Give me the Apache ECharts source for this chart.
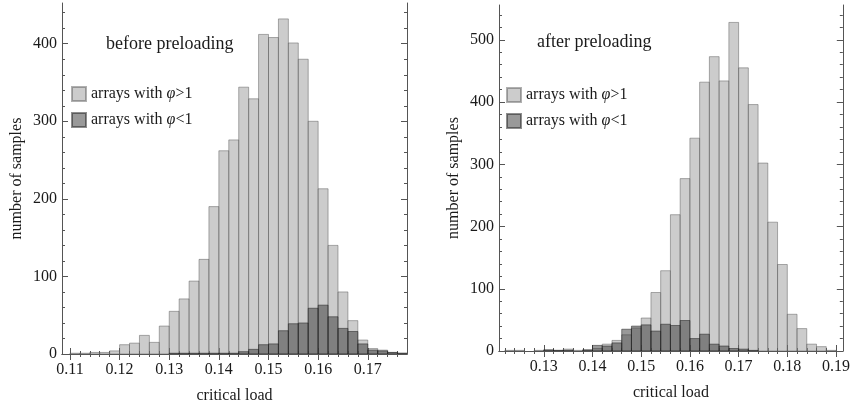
<!DOCTYPE html>
<html><head><meta charset="utf-8">
<script src="https://cdn.jsdelivr.net/npm/echarts@6/dist/echarts.min.js"></script>
<style>html,body{margin:0;padding:0;background:#fff}#c{width:853px;height:410px}</style>
</head><body><div id="c"></div>
<script>
// ---------- data ----------
const binWidth = 0.002;
const seriesNames = ['arrays with φ>1', 'arrays with φ<1'];
const panelTitles = ['before preloading', 'after preloading'];
const xAxisName = 'critical load';
const yAxisName = 'number of samples';

// before preloading
const leftBinStarts = [0.110,0.112,0.114,0.116,0.118,0.120,0.122,0.124,0.126,0.128,
  0.130,0.132,0.134,0.136,0.138,0.140,0.142,0.144,0.146,0.148,
  0.150,0.152,0.154,0.156,0.158,0.160,0.162,0.164,0.166,0.168,
  0.170,0.172,0.174,0.176];
const leftAbove = [1,1,2,2,4,12,14,24,15,36,
  55,71,94,122,190,262,276,344,329,412,
  408,432,401,380,300,213,140,80,43,18,
  7,5,2,1];
const leftBelow = [0,0,0,0,0,0,0,0,0,0,
  1,1,1,1,1,1,1,3,6,12,
  13,30,39,40,59,63,48,33,29,13,
  5,4,2,1];
const leftXTicks = [0.11,0.12,0.13,0.14,0.15,0.16,0.17];
const leftYTicks = [0,100,200,300,400];

// after preloading
const rightBinStarts = [0.122,0.124,0.126,0.128,0.130,0.132,0.134,0.136,0.138,0.140,
  0.142,0.144,0.146,0.148,0.150,0.152,0.154,0.156,0.158,0.160,
  0.162,0.164,0.166,0.168,0.170,0.172,0.174,0.176,0.178,0.180,
  0.182,0.184,0.186,0.188];
const rightAbove = [1,1,0,1,1,1,3,1,1,4,
  11,17,26,37,53,94,129,219,277,342,
  432,473,434,528,455,396,302,207,139,59,
  36,11,7,1];
const rightBelow = [0,0,0,0,2,1,1,0,2,9,
  8,13,35,40,42,32,43,41,49,20,
  27,11,8,4,3,1,0,0,0,0,
  0,0,0,0];
const rightXTicks = [0.13,0.14,0.15,0.16,0.17,0.18,0.19];
const rightYTicks = [0,100,200,300,400,500];

// ---------- styling / layout ----------
const FONT = '"Liberation Serif", "DejaVu Serif", serif';
const TXT = '#1a1a1a';
const FRAME = '#555';
const panels = [
  {grid:{left:62, top:3, width:345, height:351}, xmin:0.1084, xmax:0.1779, ymax:452.5,
   starts:leftBinStarts, above:leftAbove, below:leftBelow, xt:leftXTicks, yt:leftYTicks,
   title:{left:106, top:35}, legend:{left:71, top:86}},
  {grid:{left:499, top:5, width:345, height:346}, xmin:0.1208, xmax:0.1914, ymax:556,
   starts:rightBinStarts, above:rightAbove, below:rightBelow, xt:rightXTicks, yt:rightYTicks,
   title:{left:537, top:33}, legend:{left:506, top:87}}
];

function minorList(lo, hi, step) {
  const out = [];
  const k0 = Math.ceil(lo / step - 1e-9), k1 = Math.floor(hi / step + 1e-9);
  for (let k = k0; k <= k1; k++) out.push(+(k * step).toFixed(6));
  return out;
}

const grids = [], xAxes = [], yAxes = [], series = [], titles = [], legends = [];
const seriesStyles = [
  {color:'rgba(153,153,153,0.5)', borderColor:'rgba(80,80,80,0.45)', borderWidth:1},
  {color:'rgba(51,51,51,0.5)', borderColor:'rgba(30,30,30,0.5)', borderWidth:1}
];

function renderBar(params, api) {
  const y = api.value(2);
  if (!(y > 0)) return null;
  const p0 = api.coord([api.value(0), y]);
  const p1 = api.coord([api.value(1), 0]);
  return {type:'rect', shape:{x:p0[0], y:p0[1], width:p1[0]-p0[0], height:p1[1]-p0[1]},
          style: api.style()};
}

panels.forEach((p, g) => {
  grids.push(Object.assign({containLabel:false}, p.grid));
  const xMinor = minorList(p.xmin, p.xmax, binWidth);
  const yMinor = minorList(0, p.ymax, 20);
  const base = {gridIndex:g, splitLine:{show:false}};
  const xi = xAxes.length, yi = yAxes.length;
  const tickStyle = {color:FRAME, width:1};
  // x axes: bottom major, bottom minor, top major, top minor
  xAxes.push(Object.assign({}, base, {type:'value', position:'bottom', min:p.xmin, max:p.xmax,
    axisLine:{show:true, lineStyle:{color:FRAME, width:1}},
    axisTick:{show:true, inside:true, length:6, customValues:p.xt, lineStyle:tickStyle},
    axisLabel:{show:true, customValues:p.xt, formatter:v => v.toFixed(2), margin:8,
      fontFamily:FONT, fontSize:16, color:TXT},
    name:xAxisName, nameLocation:'middle', nameGap:34,
    nameTextStyle:{fontFamily:FONT, fontSize:16, color:TXT}}));
  xAxes.push(Object.assign({}, base, {type:'value', position:'bottom', min:p.xmin, max:p.xmax,
    axisLine:{show:false}, axisTick:{show:true, inside:true, length:3, customValues:xMinor, lineStyle:tickStyle},
    axisLabel:{show:false}}));
  xAxes.push(Object.assign({}, base, {type:'value', position:'top', min:p.xmin, max:p.xmax,
    axisLine:{show:true, lineStyle:{color:FRAME, width:1}},
    axisTick:{show:true, inside:true, length:6, customValues:p.xt, lineStyle:tickStyle},
    axisLabel:{show:false}}));
  xAxes.push(Object.assign({}, base, {type:'value', position:'top', min:p.xmin, max:p.xmax,
    axisLine:{show:false}, axisTick:{show:true, inside:true, length:3, customValues:xMinor, lineStyle:tickStyle},
    axisLabel:{show:false}}));
  // y axes: left major, left minor, right major, right minor
  yAxes.push(Object.assign({}, base, {type:'value', position:'left', min:0, max:p.ymax,
    axisLine:{show:true, lineStyle:{color:FRAME, width:1}},
    axisTick:{show:true, inside:true, length:6, customValues:p.yt, lineStyle:tickStyle},
    axisLabel:{show:true, customValues:p.yt, margin:5, fontFamily:FONT, fontSize:16, color:TXT},
    name:yAxisName, nameLocation:'middle', nameGap:37,
    nameTextStyle:{fontFamily:FONT, fontSize:16, color:TXT}}));
  yAxes.push(Object.assign({}, base, {type:'value', position:'left', min:0, max:p.ymax,
    axisLine:{show:false}, axisTick:{show:true, inside:true, length:3, customValues:yMinor, lineStyle:tickStyle},
    axisLabel:{show:false}}));
  yAxes.push(Object.assign({}, base, {type:'value', position:'right', min:0, max:p.ymax,
    axisLine:{show:true, lineStyle:{color:FRAME, width:1}},
    axisTick:{show:true, inside:true, length:6, customValues:p.yt, lineStyle:tickStyle},
    axisLabel:{show:false}}));
  yAxes.push(Object.assign({}, base, {type:'value', position:'right', min:0, max:p.ymax,
    axisLine:{show:false}, axisTick:{show:true, inside:true, length:3, customValues:yMinor, lineStyle:tickStyle},
    axisLabel:{show:false}}));

  [p.above, p.below].forEach((counts, s) => {
    series.push({type:'custom', name:seriesNames[s], xAxisIndex:xi, yAxisIndex:yi,
      renderItem:renderBar, clip:true, encode:{x:[0,1], y:2},
      itemStyle:seriesStyles[s], silent:true,
      data:p.starts.map((st, i) => [st, +(st + binWidth).toFixed(6), counts[i]])});
  });

  titles.push({text:panelTitles[g], left:p.title.left, top:p.title.top, padding:0,
    textStyle:{fontFamily:FONT, fontSize:18, fontWeight:'normal', color:TXT}});
  legends.push({data:seriesNames, orient:'vertical', left:p.legend.left, top:p.legend.top,
    padding:0, itemWidth:14, itemHeight:14, itemGap:10, icon:'rect', selectedMode:false,
    formatter: name => { const parts = name.split('φ'); return '{t|' + parts[0] + '}{i|φ}{t|' + parts[1] + '}'; },
    textStyle:{fontFamily:FONT, fontSize:16, color:TXT,
      rich:{t:{fontFamily:FONT, fontSize:16, color:TXT}, i:{fontFamily:FONT, fontSize:16, fontStyle:'italic', color:TXT}}}});
});

const chart = echarts.init(document.getElementById('c'), null, {renderer:'canvas'});
chart.setOption({animation:false, backgroundColor:'#fff', title:titles, legend:legends,
  grid:grids, xAxis:xAxes, yAxis:yAxes, series:series});
</script></body></html>
